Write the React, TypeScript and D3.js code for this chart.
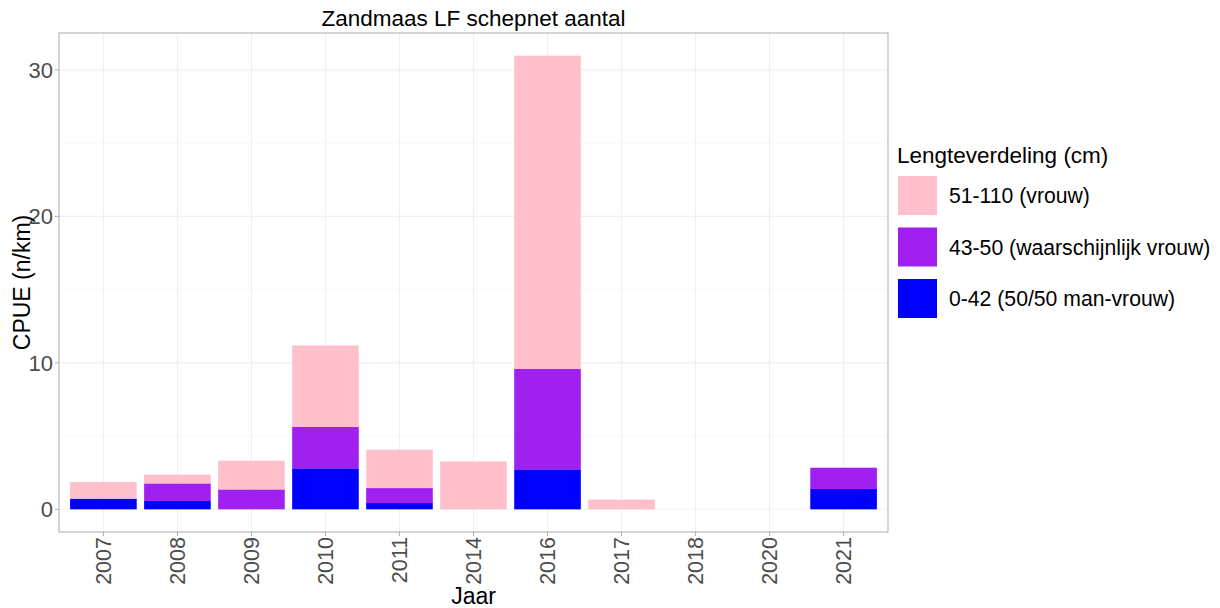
import React from 'react';
import * as d3 from 'd3';

const years = ['2007', '2008', '2009', '2010', '2011', '2014', '2016', '2017', '2018', '2020', '2021'];
// stacked from bottom: blue, purple, pink
const small = [0.73, 0.57, 0, 2.8, 0.43, 0, 2.73, 0, 0, 0, 1.39];
const middle = [0, 1.2, 1.36, 2.84, 1.02, 0, 6.87, 0, 0, 0, 1.45];
const large = [1.13, 0.6, 1.96, 5.55, 2.62, 3.27, 21.37, 0.66, 0, 0, 0];
const seriesNames = ['0-42 (50/50 man-vrouw)', '43-50 (waarschijnlijk vrouw)', '51-110 (vrouw)'];
const seriesColors = ['#0000FF', '#A020F0', '#FFC0CB'];
const yTicks = [0, 10, 20, 30];
const yMinor = [5, 15, 25];

const W = 1220;
const H = 608;
const panel = { left: 59, right: 888, top: 33, bottom: 532 };
const font = '"Liberation Sans", Arial, sans-serif';

const App: React.FC = () => {
  const rows = years.map((y, i) => ({ year: y, s0: small[i], s1: middle[i], s2: large[i] }));
  const stack = d3.stack<any>().keys(['s0', 's1', 's2'])(rows);
  const maxTotal = d3.max(rows, d => d.s0 + d.s1 + d.s2)!;
  const pad = maxTotal * 0.05;

  const x = d3.scaleBand().domain(years).range([panel.left, panel.right]).paddingInner(0.1).paddingOuter(0.15);
  const y = d3.scaleLinear().domain([-pad, maxTotal + pad]).range([panel.bottom, panel.top]);
  const center = (yr: string) => x(yr)! + x.bandwidth() / 2;

  return (
    <svg width={W} height={H} style={{ position: 'absolute', left: 0, top: 0 }} fontFamily={font}>
      <rect x={0} y={0} width={W} height={H} fill="#fff" />
      <text x={(panel.left + panel.right) / 2} y={26} textAnchor="middle" fontSize={22.5} fill="#000">
        Zandmaas LF schepnet aantal
      </text>

      {/* grid */}
      {yMinor.map(t => (
        <line key={'mn' + t} x1={panel.left} x2={panel.right} y1={y(t)} y2={y(t)} stroke="#F3F3F3" strokeWidth={0.6} />
      ))}
      {yTicks.map(t => (
        <line key={'mj' + t} x1={panel.left} x2={panel.right} y1={y(t)} y2={y(t)} stroke="#EFEFEF" strokeWidth={1.1} />
      ))}
      {years.map(yr => (
        <line key={'vg' + yr} x1={center(yr)} x2={center(yr)} y1={panel.top} y2={panel.bottom} stroke="#EFEFEF" strokeWidth={1.1} />
      ))}

      {/* bars */}
      {stack.map((layer, li) => (
        <g key={li} fill={seriesColors[li]}>
          {layer.map((d, i) =>
            d[1] - d[0] > 0 ? (
              <rect key={i} x={x(years[i])} y={y(d[1])} width={x.bandwidth()} height={y(d[0]) - y(d[1])} />
            ) : null
          )}
        </g>
      ))}

      <rect x={panel.left} y={panel.top} width={panel.right - panel.left} height={panel.bottom - panel.top} fill="none" stroke="#B3B3B3" strokeWidth={1.1} />

      {/* y axis */}
      {yTicks.map(t => (
        <g key={'yt' + t}>
          <line x1={panel.left - 4} x2={panel.left} y1={y(t)} y2={y(t)} stroke="#B3B3B3" strokeWidth={1.1} />
          <text x={panel.left - 6} y={y(t)} dy="0.36em" textAnchor="end" fontSize={22} fill="#4D4D4D">{t}</text>
        </g>
      ))}
      <text transform={`translate(30,${(panel.top + panel.bottom) / 2}) rotate(-90)`} textAnchor="middle" fontSize={23} fill="#000">
        CPUE (n/km)
      </text>

      {/* x axis */}
      {years.map(yr => (
        <g key={'xt' + yr}>
          <line x1={center(yr)} x2={center(yr)} y1={panel.bottom} y2={panel.bottom + 4} stroke="#B3B3B3" strokeWidth={1.1} />
          <text transform={`translate(${center(yr)},${panel.bottom + 5}) rotate(-90)`} dy="0.36em" textAnchor="end" fontSize={21.5} fill="#4D4D4D">
            {yr}
          </text>
        </g>
      ))}
      <text x={(panel.left + panel.right) / 2} y={604} textAnchor="middle" fontSize={23} fill="#000">Jaar</text>

      {/* legend */}
      <text x={897} y={163} fontSize={22.5} fill="#000">Lengteverdeling (cm)</text>
      {[2, 1, 0].map((si, k) => (
        <g key={'lg' + si} transform={`translate(898,${176 + k * 51.5})`}>
          <rect x={0} y={0} width={39} height={39} fill={seriesColors[si]} />
          <text x={51} y={19.5} dy="0.36em" fontSize={21.2} fill="#000">{seriesNames[si]}</text>
        </g>
      ))}
    </svg>
  );
};

export default App;
